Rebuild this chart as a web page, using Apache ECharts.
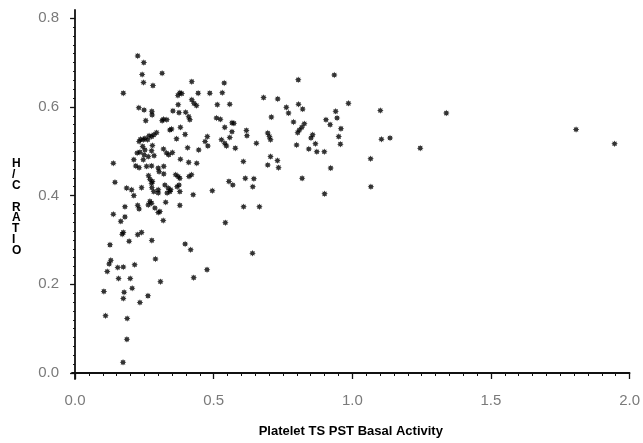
<!DOCTYPE html>
<html><head><meta charset="utf-8">
<script src="https://cdn.jsdelivr.net/npm/echarts@6/dist/echarts.min.js"></script>
<style>html,body{margin:0;padding:0;background:#fff}#c{width:643px;height:443px}</style>
</head><body><div id="c"></div>
<script>
// Platelet TS PST basal activity (x) and H/C ratio (y)
const tsPstActivity = [
0.226,0.248,0.242,0.314,0.247,0.281,0.421,0.538,0.531,0.174,
0.378,0.385,0.371,0.444,0.486,0.421,0.429,0.438,0.372,0.513,
0.558,0.230,0.249,0.277,0.278,0.353,0.375,0.399,0.410,0.414,
0.319,0.314,0.331,0.255,0.510,0.524,0.566,0.573,0.540,0.380,
0.342,0.348,0.618,0.620,0.566,0.558,0.397,
0.294,0.284,0.276,0.267,0.262,0.252,0.246,0.236,0.231,
0.366,0.477,0.469,0.479,0.528,0.540,0.546,0.244,0.252,0.234,
0.224,0.279,0.276,0.319,0.330,0.338,0.351,0.406,0.446,0.578,
0.249,0.264,0.285,0.212,0.246,0.380,0.410,0.439,0.138,0.607,
0.219,0.231,0.258,0.276,0.300,0.320,0.303,0.265,0.270,0.279,
0.276,0.320,0.363,0.372,0.378,0.375,0.368,0.411,0.420,0.144,
0.555,0.569,0.614,0.186,0.204,0.212,0.240,0.277,0.284,0.300,
0.300,0.324,0.336,0.345,0.342,0.332,0.378,0.426,0.495,0.270,
0.276,0.264,0.226,0.327,0.378,0.180,0.608,
0.288,0.300,0.306,0.231,0.138,0.180,0.165,0.318,0.542,0.174,
0.170,0.226,0.240,0.195,0.277,0.126,0.397,0.417,0.290,0.129,
0.123,0.116,0.154,0.174,0.215,0.476,0.157,0.199,0.428,0.308,
0.104,0.177,0.174,0.206,0.263,0.234,0.110,0.188,0.187,0.173,
0.805,0.935,0.680,0.731,0.986,0.762,0.770,0.806,0.821,0.940,
0.945,1.101,0.708,0.905,0.920,0.788,0.827,0.818,0.809,0.803,
0.959,0.695,0.701,0.705,0.857,0.851,0.951,1.105,1.136,1.245,
0.654,0.867,0.843,0.872,0.899,0.799,0.957,0.705,0.695,0.730,
0.734,1.066,0.922,0.645,0.641,0.819,1.067,0.900,0.665,0.640,
1.339,1.807,1.946
];
const hcRatio = [
0.715,0.700,0.673,0.676,0.655,0.648,0.657,0.654,0.632,0.631,
0.632,0.630,0.626,0.631,0.631,0.616,0.608,0.603,0.605,0.605,
0.606,0.598,0.593,0.590,0.582,0.591,0.587,0.588,0.578,0.571,
0.572,0.569,0.571,0.569,0.575,0.572,0.564,0.563,0.554,0.554,
0.548,0.550,0.547,0.535,0.544,0.531,0.538,
0.542,0.537,0.533,0.535,0.526,0.529,0.526,0.527,0.522,
0.528,0.533,0.522,0.512,0.526,0.518,0.512,0.511,0.503,0.498,
0.496,0.513,0.501,0.505,0.496,0.492,0.497,0.508,0.503,0.507,
0.492,0.488,0.490,0.481,0.481,0.482,0.475,0.473,0.473,0.477,
0.467,0.463,0.466,0.467,0.462,0.466,0.454,0.445,0.437,0.432,
0.428,0.449,0.447,0.443,0.439,0.424,0.420,0.443,0.447,0.430,
0.432,0.424,0.439,0.417,0.413,0.400,0.418,0.418,0.409,0.413,
0.406,0.424,0.417,0.413,0.409,0.406,0.409,0.402,0.411,0.387,
0.383,0.379,0.378,0.385,0.378,0.375,0.375,
0.372,0.362,0.364,0.370,0.358,0.352,0.342,0.344,0.339,0.317,
0.313,0.312,0.317,0.297,0.299,0.289,0.291,0.278,0.257,0.254,
0.246,0.229,0.238,0.239,0.244,0.233,0.213,0.213,0.215,0.206,
0.184,0.182,0.168,0.191,0.174,0.159,0.129,0.123,0.076,0.024,
0.661,0.672,0.621,0.618,0.608,0.599,0.586,0.606,0.595,0.590,
0.575,0.592,0.577,0.571,0.560,0.566,0.562,0.554,0.548,0.542,
0.551,0.541,0.533,0.526,0.537,0.530,0.533,0.527,0.530,0.507,
0.518,0.517,0.505,0.499,0.499,0.514,0.516,0.488,0.469,0.479,
0.463,0.483,0.462,0.438,0.420,0.439,0.420,0.404,0.375,0.270,
0.586,0.549,0.517
];
const xTickValues = [0, 0.5, 1.0, 1.5, 2.0];
const xTickLabels = ['0.0', '0.5', '1.0', '1.5', '2.0'];
const yTickValues = [0, 0.2, 0.4, 0.6, 0.8];
const yTickLabels = ['0.0', '0.2', '0.4', '0.6', '0.8'];
const xMinorStep = 0.05;
const yMinorStep = 0.02;
const xTitle = 'Platelet TS PST Basal Activity';
const yTitleLetters = ['H', '/', 'C', '', 'R', 'A', 'T', 'I', 'O'];

const xMinor = [];
for (let i = 0; i <= 40; i++) xMinor.push(+(i * xMinorStep).toFixed(3));
const yMinor = [];
for (let i = 0; i <= 40; i++) yMinor.push(+(i * yMinorStep).toFixed(3));

const fmt = (vals, labels) => (v) => {
  let best = 0;
  for (let i = 1; i < vals.length; i++) if (Math.abs(vals[i] - v) < Math.abs(vals[best] - v)) best = i;
  return labels[best];
};

const lineCol = '#111';
const labelStyle = { color: '#7a7a7a', fontSize: 15, fontFamily: 'Liberation Sans, Arial, sans-serif' };
const xMin = -0.011, xMax = 2.0, yMin = -0.0135, yMax = 0.8185;
const star = 'path://M100,0L56,23L70.7,70.7L23,56L0,100L-23,56L-70.7,70.7L-56,23L-100,0L-56,-23L-70.7,-70.7L-23,-56L0,-100L23,-56L70.7,-70.7L56,-23Z';

const chart = echarts.init(document.getElementById('c'), null, { renderer: 'canvas' });
chart.setOption({
  animation: false,
  backgroundColor: '#fff',
  grid: { left: 72, right: 12, top: 10, bottom: 64 },
  xAxis: [
    { type: 'value', min: xMin, max: xMax, position: 'bottom',
      axisLine: { show: true, lineStyle: { color: lineCol, width: 1.8 } },
      axisTick: { show: true, customValues: xMinor, length: 3, lineStyle: { color: lineCol, width: 1 } },
      axisLabel: { show: false }, splitLine: { show: false } },
    { type: 'value', min: xMin, max: xMax, position: 'bottom',
      axisLine: { show: false },
      axisTick: { show: true, customValues: xTickValues, length: 6, lineStyle: { color: lineCol, width: 1.3 } },
      axisLabel: Object.assign({ customValues: xTickValues, formatter: fmt(xTickValues, xTickLabels), margin: 14 }, labelStyle),
      splitLine: { show: false },
      name: xTitle, nameLocation: 'middle', nameGap: 46,
      nameTextStyle: { color: '#000', fontSize: 13, fontWeight: 'bold', fontFamily: 'Liberation Sans, Arial, sans-serif' } }
  ],
  yAxis: [
    { type: 'value', min: yMin, max: yMax, position: 'left',
      axisLine: { show: true, lineStyle: { color: lineCol, width: 1.8 } },
      axisTick: { show: true, customValues: yMinor, length: 2, lineStyle: { color: lineCol, width: 1 } },
      axisLabel: { show: false }, splitLine: { show: false } },
    { type: 'value', min: yMin, max: yMax, position: 'left',
      axisLine: { show: false },
      axisTick: { show: true, customValues: yTickValues, length: 5, lineStyle: { color: lineCol, width: 1.3 } },
      axisLabel: Object.assign({ customValues: yTickValues, formatter: fmt(yTickValues, yTickLabels), margin: 13 }, labelStyle),
      splitLine: { show: false } }
  ],
  graphic: [{
    type: 'text', left: 12, top: 158,
    style: { text: yTitleLetters.join('\n'), fill: '#000', font: 'bold 12px "Liberation Sans", Arial, sans-serif', lineHeight: 10.8, align: 'center' }
  }],
  series: [{
    type: 'scatter', xAxisIndex: 0, yAxisIndex: 0,
    symbol: star, symbolSize: 6.5,
    itemStyle: { color: '#000' },
    data: tsPstActivity.map((x, i) => [x, hcRatio[i]])
  }]
});
</script></body></html>
